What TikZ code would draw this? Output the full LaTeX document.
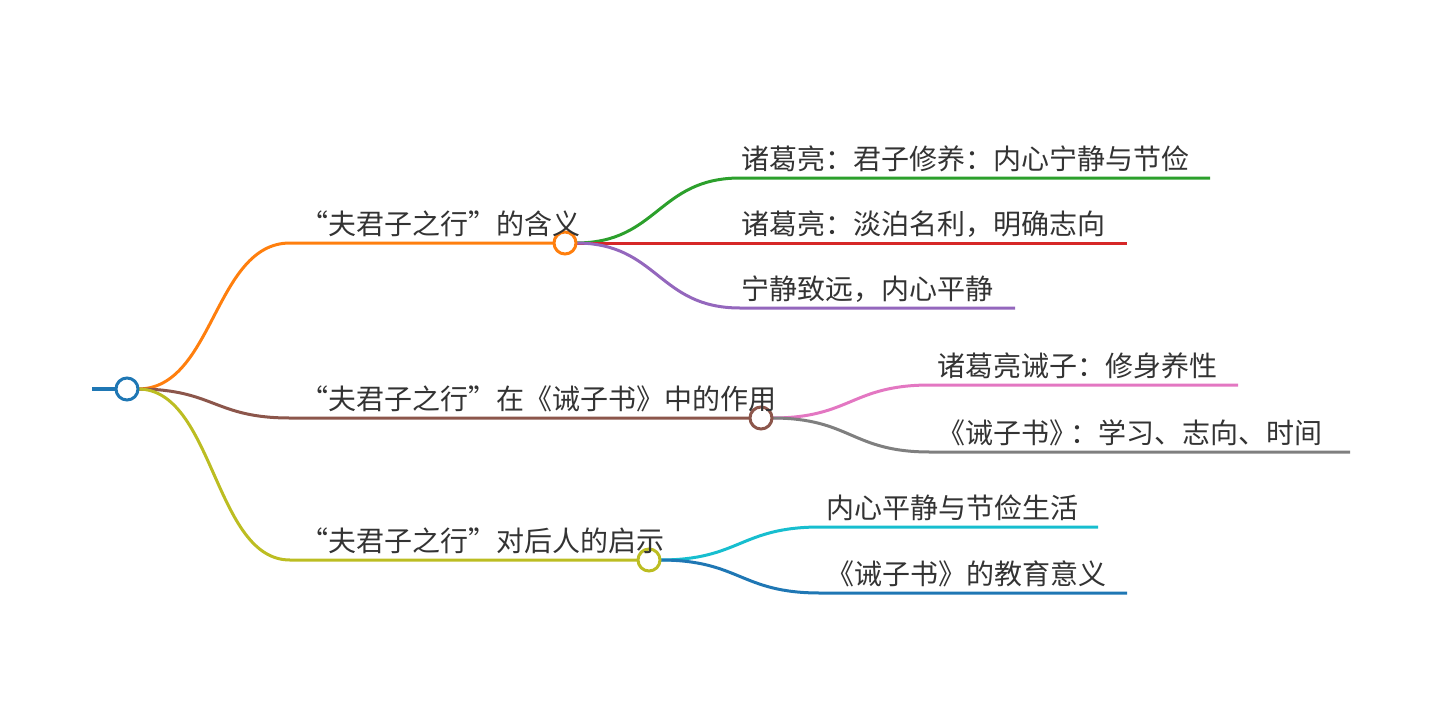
\documentclass[tikz,border=0pt]{standalone}
\usepackage{fontspec}
\newfontfamily\cjk{Noto Sans CJK SC}
\usetikzlibrary{backgrounds}
\definecolor{txt}{HTML}{333333}
\definecolor{c0}{HTML}{1F77B4}
\definecolor{c1}{HTML}{FF7F0E}
\definecolor{c2}{HTML}{2CA02C}
\definecolor{c3}{HTML}{D62728}
\definecolor{c4}{HTML}{9467BD}
\definecolor{c5}{HTML}{8C564B}
\definecolor{c6}{HTML}{E377C2}
\definecolor{c7}{HTML}{7F7F7F}
\definecolor{c8}{HTML}{BCBD22}
\definecolor{c9}{HTML}{17BECF}
\begin{document}
\begin{tikzpicture}[x=1pt,y=-1pt,
  lbl/.style={anchor=base west, inner sep=0pt, outer sep=0pt, text=txt, font=\cjk\fontsize{28}{33}\selectfont},
  dot/.style={circle, draw, fill=white, line width=3pt, minimum size=22pt, inner sep=0pt, outer sep=0pt},
  link/.style={line width=3pt}]
\useasboundingbox (0,0) rectangle (1440,715);

% circles
\node[dot, draw=c0] (root) at (127,389) {};
\node[dot, draw=c1] (n1) at (565,243) {};
\node[dot, draw=c5] (n2) at (761,418) {};
\node[dot, draw=c8] (n3) at (649,560) {};

% coordinates
\coordinate (r0) at (92,389);
\coordinate (a1) at (290,243);
\coordinate (a2) at (290,418);
\coordinate (a3) at (290,560);
\coordinate (b11) at (740,178);  \coordinate (e11) at (1210,178);
\coordinate (e12) at (1127,243);
\coordinate (b13) at (740,308);  \coordinate (e13) at (1015,308);
\coordinate (b21) at (930,385);  \coordinate (e21) at (1238,385);
\coordinate (b22) at (930,452);  \coordinate (e22) at (1350,452);
\coordinate (b31) at (820,527);  \coordinate (e31) at (1098,527);
\coordinate (b32) at (820,593);  \coordinate (e32) at (1127,593);

\begin{pgfonlayer}{background}
\draw[c0, line width=4pt] (r0) -- (root.west);
\draw[link, c1] (root.east) .. controls (214,389) and (214,243) .. (a1) -- (n1.west);
\draw[link, c5] (root.east) .. controls (214,389) and (214,418) .. (a2) -- (n2.west);
\draw[link, c8] (root.east) .. controls (214,389) and (214,560) .. (a3) -- (n3.west);
\draw[link, c2] (n1.east) .. controls (658,243) and (658,178) .. (b11) -- (e11);
\draw[link, c3] (n1.east) -- (e12);
\draw[link, c4] (n1.east) .. controls (658,243) and (658,308) .. (b13) -- (e13);
\draw[link, c6] (n2.east) .. controls (851,418) and (851,385) .. (b21) -- (e21);
\draw[link, c7] (n2.east) .. controls (851,418) and (851,452) .. (b22) -- (e22);
\draw[link, c9] (n3.east) .. controls (740,560) and (740,527) .. (b31) -- (e31);
\draw[link, c0] (n3.east) .. controls (740,560) and (740,593) .. (b32) -- (e32);
\end{pgfonlayer}

% labels
\node[lbl] (t1) at (300,234.5) {“夫君子之行”的含义};
\node[lbl] (t11) at (741,169.5) {诸葛亮：君子修养：内心宁静与节俭};
\node[lbl] (t12) at (741,234.5) {诸葛亮：淡泊名利，明确志向};
\node[lbl] (t13) at (741,299.5) {宁静致远，内心平静};
\node[lbl] (t2) at (300,409.5) {“夫君子之行”在《诫子书》中的作用};
\node[lbl] (t21) at (937,376.5) {诸葛亮诫子：修身养性};
\node[lbl] (t22) at (937,443.5) {《诫子书》\kern-7pt：学习、志向、时间};
\node[lbl] (t3) at (300,551.5) {“夫君子之行”对后人的启示};
\node[lbl] (t31) at (826,518.5) {内心平静与节俭生活};
\node[lbl] (t32) at (826,584.5) {《诫子书》的教育意义};
\end{tikzpicture}
\end{document}
